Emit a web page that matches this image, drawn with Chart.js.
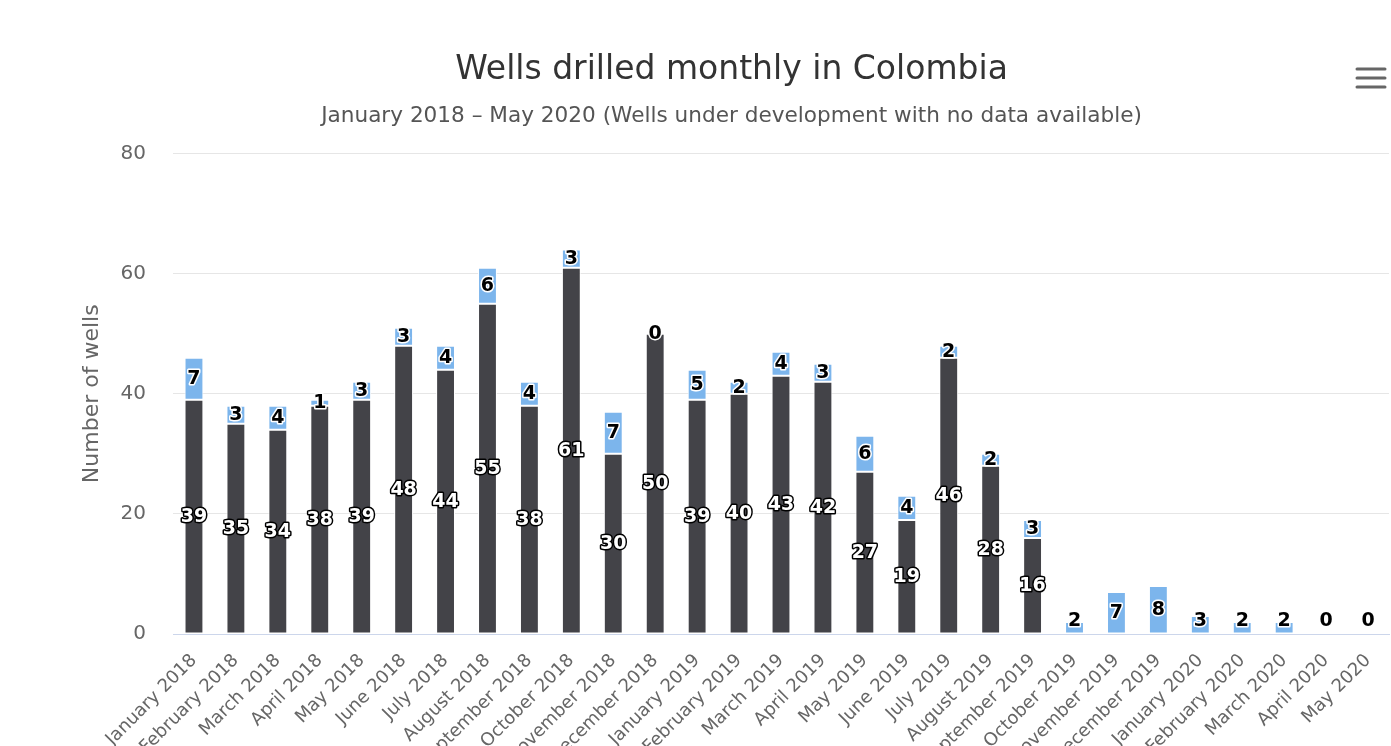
<!DOCTYPE html>
<html>
<head>
<meta charset="utf-8">
<script src="https://cdn.jsdelivr.net/npm/chart.js@4"></script>
<style>
  html, body { margin: 0; padding: 0; background: #fff; }
  #wrap { position: relative; width: 1391px; height: 746px; }
</style>
</head>
<body>
<div id="wrap"><canvas id="wellsChart"></canvas></div>
<script>
// Months shown on the x axis
const months = [
    'January 2018', 'February 2018', 'March 2018', 'April 2018', 'May 2018', 'June 2018',
    'July 2018', 'August 2018', 'September 2018', 'October 2018', 'November 2018', 'December 2018',
    'January 2019', 'February 2019', 'March 2019', 'April 2019', 'May 2019', 'June 2019',
    'July 2019', 'August 2019', 'September 2019', 'October 2019', 'November 2019', 'December 2019',
    'January 2020', 'February 2020', 'March 2020', 'April 2020', 'May 2020'
];

// Wells with data (dark, bottom of the stack)
const drilledWells = [39, 35, 34, 38, 39, 48, 44, 55, 38, 61, 30, 50,
    39, 40, 43, 42, 27, 19, 46, 28, 16, 0, 0, 0, 0, 0, 0, 0, 0];

// Wells under development with no data (light blue, top of the stack)
const noDataWells = [7, 3, 4, 1, 3, 3, 4, 6, 4, 3, 7, 0,
    5, 2, 4, 3, 6, 4, 2, 2, 3, 2, 7, 8, 3, 2, 2, 0, 0];

const yTicks = [0, 20, 40, 60, 80];

const FONT = "'DejaVu Sans', sans-serif";

// Value labels drawn in the middle of each stacked segment
const barLabels = {
    id: 'barLabels',
    afterDatasetsDraw(chart) {
        const ctx = chart.ctx;
        const area = chart.chartArea;
        ctx.save();
        ctx.font = 'bold 19px ' + FONT;
        ctx.textAlign = 'center';
        ctx.textBaseline = 'middle';
        ctx.lineJoin = 'round';
        ctx.lineWidth = 3;
        chart.data.datasets.forEach((ds, i) => {
            const meta = chart.getDatasetMeta(i);
            meta.data.forEach((bar, j) => {
                // no dark label where there is no dark bar
                if (i === 0 && ds.data[j] === 0) return;
                const { x, y, base } = bar.getProps(['x', 'y', 'base'], true);
                const cy = Math.min((y + base) / 2, area.bottom - 13);
                const txt = String(ds.data[j]);
                ctx.strokeStyle = ds.labelOutline;
                ctx.fillStyle = ds.labelColor;
                ctx.strokeText(txt, x, cy);
                ctx.fillText(txt, x, cy);
            });
        });
        ctx.restore();
    }
};

// The context menu icon in the top right corner
const menuIcon = {
    id: 'menuIcon',
    afterDraw(chart) {
        const ctx = chart.ctx;
        ctx.save();
        ctx.strokeStyle = '#666';
        ctx.lineWidth = 3;
        ctx.lineCap = 'round';
        [69, 78, 87].forEach(y => {
            ctx.beginPath();
            ctx.moveTo(1357, y);
            ctx.lineTo(1385, y);
            ctx.stroke();
        });
        ctx.restore();
    }
};

const ctx = document.getElementById('wellsChart').getContext('2d');
new Chart(ctx, {
    type: 'bar',
    data: {
        labels: months,
        datasets: [
            {
                label: 'Wells drilled',
                data: drilledWells,
                backgroundColor: '#434348',
                borderColor: '#ffffff',
                borderWidth: 1,
                borderSkipped: false,
                labelColor: '#ffffff',
                labelOutline: '#000000'
            },
            {
                label: 'Wells under development with no data available',
                data: noDataWells,
                backgroundColor: '#7cb5ec',
                borderColor: '#ffffff',
                borderWidth: 1,
                borderSkipped: false,
                labelColor: '#000000',
                labelOutline: '#ffffff'
            }
        ]
    },
    options: {
        responsive: true,
        maintainAspectRatio: false,
        animation: false,
        // left padding pushes the centred titles right, like the cropped original
        layout: { padding: { left: 74, right: 2, top: 0, bottom: 0 } },
        datasets: {
            bar: { categoryPercentage: 0.9, barPercentage: 0.5 }
        },
        plugins: {
            legend: { display: false },
            tooltip: { enabled: false },
            title: {
                display: true,
                text: 'Wells drilled monthly in Colombia',
                color: '#333333',
                font: { family: FONT, size: 33, weight: 'normal' },
                padding: { top: 51, bottom: 13 }
            },
            subtitle: {
                display: true,
                text: 'January 2018 – May 2020 (Wells under development with no data available)',
                color: '#555555',
                font: { family: FONT, size: 21.6, weight: 'normal' },
                padding: { top: 0, bottom: 24 }
            }
        },
        scales: {
            x: {
                stacked: true,
                grid: { display: false, drawTicks: false },
                border: { display: true, color: '#ccd6eb' },
                ticks: {
                    autoSkip: false,
                    minRotation: 45,
                    maxRotation: 45,
                    color: '#666666',
                    font: { family: FONT, size: 18 },
                    padding: 16
                },
                afterFit(scale) {
                    scale.height = 112;
                    scale.paddingRight = 0;
                }
            },
            y: {
                stacked: true,
                min: 0,
                max: 80,
                afterBuildTicks(scale) { scale.ticks = yTicks.map(v => ({ value: v })); },
                grid: { color: '#e6e6e6', drawTicks: false },
                border: { display: false },
                ticks: {
                    color: '#666666',
                    font: { family: FONT, size: 20 },
                    padding: 27
                },
                title: {
                    display: true,
                    text: 'Number of wells',
                    color: '#666666',
                    font: { family: FONT, size: 22 },
                    padding: { top: 5, bottom: 0 }
                },
                afterFit(scale) { scale.width = 99; }
            }
        }
    },
    plugins: [barLabels, menuIcon]
});
</script>
</body>
</html>
